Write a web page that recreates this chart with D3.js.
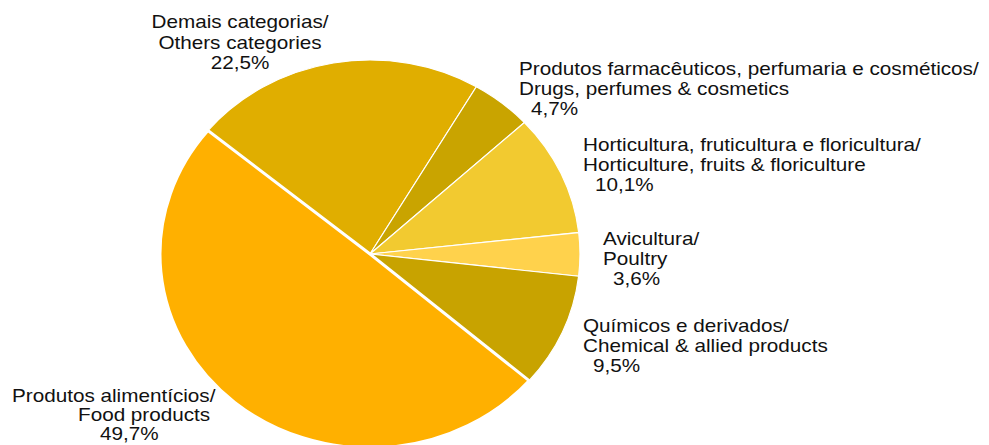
<!DOCTYPE html>
<html><head><meta charset="utf-8">
<script src="https://cdn.jsdelivr.net/npm/d3@7"></script>
<style>body{margin:0;background:#fff}</style>
</head><body>
<svg id="c" width="989" height="445"></svg>
<script>
const categories = [
  ["Demais categorias/", "Others categories"],
  ["Produtos farmacêuticos, perfumaria e cosméticos/", "Drugs, perfumes & cosmetics"],
  ["Horticultura, fruticultura e floricultura/", "Horticulture, fruits & floriculture"],
  ["Avicultura/", "Poultry"],
  ["Químicos e derivados/", "Chemical & allied products"],
  ["Produtos alimentícios/", "Food products"]
];
const values = [22.5, 4.7, 10.1, 3.6, 9.5, 49.7];
const valueLabels = ["22,5%", "4,7%", "10,1%", "3,6%", "9,5%", "49,7%"];
const colors = ["#E0AE00", "#C9A400", "#F2CA30", "#FFD24C", "#C8A300", "#FFB000"];

const labelLayout = [
  {x: [240, 240, 240], y: 28, anchor: "middle", lh: 20.5},
  {x: [519, 519, 531], y: 75, anchor: "start", lh: 20},
  {x: [583, 583, 595], y: 151, anchor: "start", lh: 20},
  {x: [603, 603, 613], y: 245, anchor: "start", lh: 20},
  {x: [583, 583, 593], y: 332, anchor: "start", lh: 20},
  {x: [12, 78, 100], y: 402, anchor: "start", lh: 19}
];

const svg = d3.select("#c");
const cx = 370, cy = 254, rx = 210, ry = 194;
const pie = d3.pie().sort(null).value(d => d)
  .startAngle(-50.5 * Math.PI / 180).endAngle((360 - 50.5) * Math.PI / 180);
const arcs = pie(values);
const arc = d3.arc().innerRadius(0).outerRadius(rx);

const g = svg.append("g").attr("transform", `translate(${cx},${cy}) scale(1,${ry / rx})`);
g.selectAll("path.slice").data(arcs).join("path")
  .attr("class", "slice")
  .attr("d", arc)
  .attr("fill", (d, i) => colors[i])
  .attr("stroke", "#fff")
  .attr("stroke-width", 1.2)
  .attr("vector-effect", "non-scaling-stroke");
g.append("path").datum(arcs[5])
  .attr("d", arc)
  .attr("fill", "none")
  .attr("stroke", "#fff")
  .attr("stroke-width", 3)
  .attr("vector-effect", "non-scaling-stroke");

const sx = 1.15;
categories.forEach((c, i) => {
  const L = labelLayout[i];
  const lines = [c[0], c[1], valueLabels[i]];
  lines.forEach((t, j) => {
    svg.append("text")
      .attr("transform", `translate(${L.x[j]},${L.y + j * L.lh}) scale(${sx},1)`)
      .attr("text-anchor", L.anchor)
      .attr("font-family", "Liberation Sans, Arial, sans-serif")
      .attr("font-size", 18)
      .attr("fill", "#111")
      .text(t);
  });
});
</script>
</body></html>
